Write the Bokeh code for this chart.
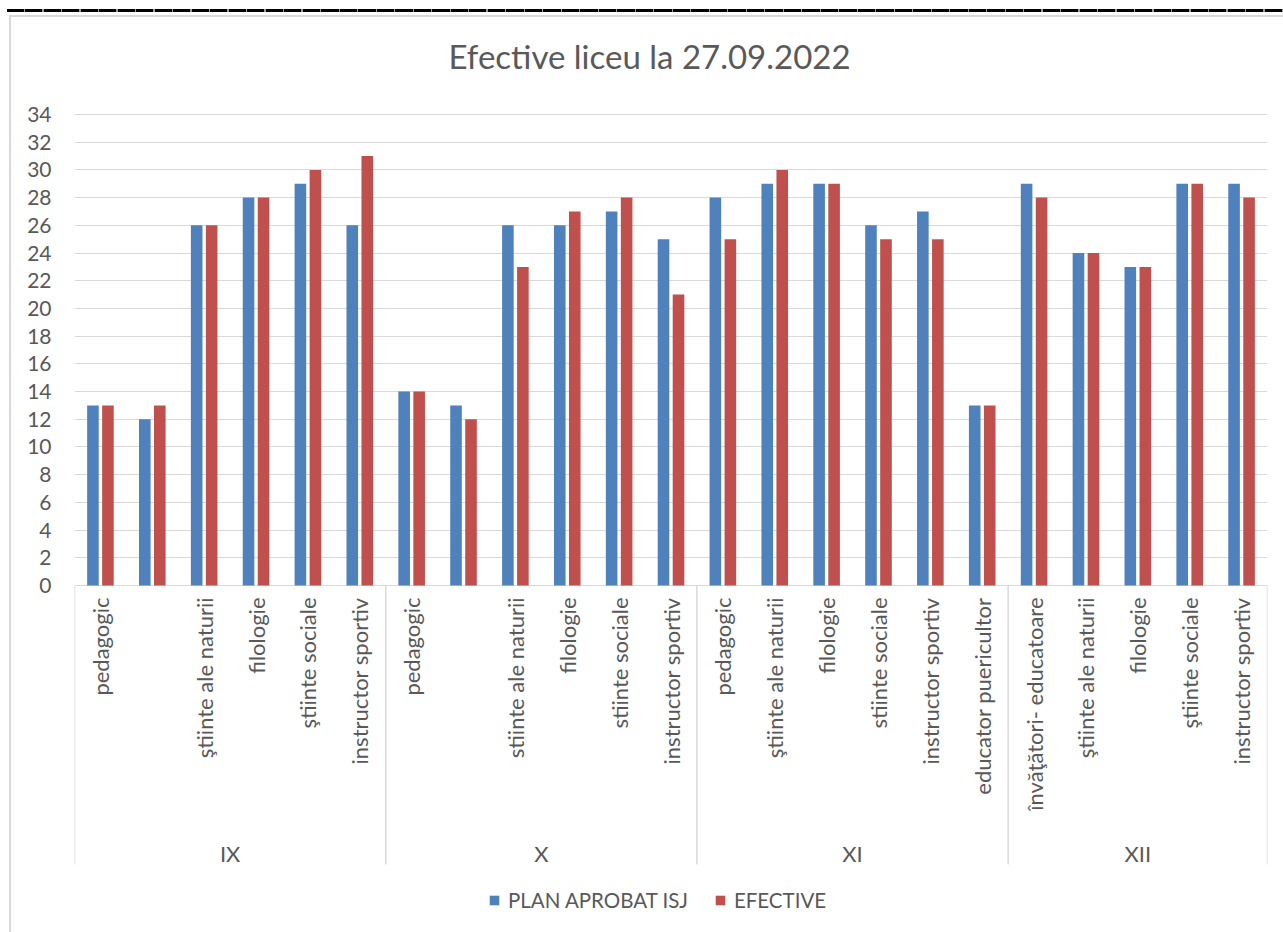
import numpy as np
from bokeh.plotting import figure
from bokeh.models import Range1d, FixedTicker, ColumnDataSource, Legend, LegendItem
from bokeh.transform import dodge
from bokeh.core.properties import value
from bokeh.embed import file_html
from bokeh.resources import INLINE

# ---- data ----
group_names = ["IX", "X", "XI", "XII"]
group_counts = [6, 6, 6, 5]
sub_labels = [
    "pedagogic", "", "ştiinte ale naturii", "filologie", "ştiinte sociale", "instructor sportiv",
    "pedagogic", "", "stiinte ale naturii", "filologie", "stiinte sociale", "instructor sportiv",
    "pedagogic", "ştiinte ale naturii", "filologie", "stiinte sociale", "instructor sportiv", "educator puericultor",
    "învăţători- educatoare", "ştiinte ale naturii", "filologie", "ştiinte sociale", "instructor sportiv",
]
plan_aprobat = [13, 12, 26, 28, 29, 26,
                14, 13, 26, 26, 27, 25,
                28, 29, 29, 26, 27, 13,
                29, 24, 23, 29, 29]
efective = [13, 13, 26, 28, 30, 31,
            14, 12, 23, 27, 28, 21,
            25, 30, 29, 25, 25, 13,
            28, 24, 23, 29, 28]
y_ticks = list(range(0, 35, 2))
title_text = "Efective liceu la 27.09.2022"
legend_labels = ["PLAN APROBAT ISJ", "EFECTIVE"]

# ---- styling ----
FONT = "Lato"
TXT = "#595959"
BLUE = "#4F81BD"
RED = "#C0504D"
GRID = "#D9D9D9"

W, H = 1283, 932
ML, MR, MT, MB = 74, 16, 100, 0
frame_h = H - MT - MB
y_top_px = 14          # gap between top of frame and the 34 gridline
y_zero_px = 485        # distance from frame top to 0 line
ppu = (y_zero_px - y_top_px) / 34.0
y_end = 34 + y_top_px / ppu
y_start = -(frame_h - y_zero_px) / ppu

n = len(sub_labels)
xs = np.arange(n)
src = ColumnDataSource(dict(x=xs, plan=plan_aprobat, eff=efective, sub=sub_labels))

p = figure(width=W, height=H, output_backend="svg", toolbar_location=None,
           x_range=Range1d(-0.5, n - 0.5), y_range=Range1d(y_start, y_end),
           x_axis_location=None, min_border_left=ML, min_border_right=MR,
           min_border_top=MT, min_border_bottom=MB, title=title_text)
p.outline_line_color = None
p.background_fill_color = "white"
p.border_fill_alpha = 0

# chart border (light grey) and the dashed black rule at the very top, as page background
p.styles = {
    "background-image": ("repeating-linear-gradient(to right, #000 0px, #000 17px, #9a9a9a 17px, #9a9a9a 18.5px), "
                         "linear-gradient(#d9d9d9, #d9d9d9), linear-gradient(#d9d9d9, #d9d9d9)"),
    "background-size": "1276px 3px, 1273px 2px, 2px 917px",
    "background-position": "7px 9px, 10px 15px, 9px 15px",
    "background-repeat": "no-repeat",
    "background-color": "white",
}

p.title.text_font = FONT
p.title.text_font_size = "33px"
p.title.text_font_style = "normal"
p.title.text_color = TXT
p.title.align = "left"
p.title.offset = 374
p.title.standoff = 50

p.xgrid.visible = False
p.ygrid.ticker = FixedTicker(ticks=y_ticks)
p.ygrid.grid_line_color = GRID
p.ygrid.grid_line_width = 1

ax = p.yaxis[0]
ax.ticker = FixedTicker(ticks=y_ticks)
ax.axis_line_color = None
ax.major_tick_line_color = None
ax.minor_tick_line_color = None
ax.major_tick_out = 0
ax.major_tick_in = 0
ax.major_label_standoff = 23
ax.major_label_text_font = FONT
ax.major_label_text_font_size = "21px"
ax.major_label_text_color = TXT

off = 7.5 / ((1267 - 74) / n)
bw = 11.6 / ((1267 - 74) / n)
r1 = p.vbar(x=dodge("x", -off, range=p.x_range), top="plan", width=bw, source=src,
            fill_color=BLUE, line_color=None)
r2 = p.vbar(x=dodge("x", off, range=p.x_range), top="eff", width=bw, source=src,
            fill_color=RED, line_color=None)

# category labels (rotated)
p.text(x="x", y=0, text="sub", source=src, angle=np.pi / 2, text_align="right",
       text_baseline="middle", y_offset=12, text_font=value(FONT),
       text_font_size="22px", text_color=TXT)

# group labels and separators
starts = np.concatenate([[0], np.cumsum(group_counts)[:-1]])
centers = starts + (np.array(group_counts) - 1) / 2.0
bounds = np.concatenate([[0], np.cumsum(group_counts)]) - 0.5
p.text(x=centers, y=[0] * len(centers), text=group_names, text_align="center",
       text_baseline="middle", y_offset=268, text_font=value(FONT),
       text_font_size="22px", text_color=TXT)
sep_len = 279 / ppu
p.segment(x0=bounds, y0=[0] * len(bounds), x1=bounds, y1=[-sep_len] * len(bounds),
          line_color=GRID, line_width=1.5)

legend = Legend(items=[LegendItem(label=legend_labels[0], renderers=[r1]),
                       LegendItem(label=legend_labels[1], renderers=[r2])],
                orientation="horizontal", location=(414, 20))
legend.padding = 0
legend.margin = 0
legend.border_line_color = None
legend.background_fill_alpha = 0
legend.glyph_width = 12
legend.glyph_height = 12
legend.label_standoff = 8
legend.spacing = 26
legend.label_text_font = FONT
legend.label_text_font_size = "20.5px"
legend.label_text_color = TXT
legend.label_height = 20
p.add_layout(legend)

open("out.html", "w").write(file_html(p, INLINE))
